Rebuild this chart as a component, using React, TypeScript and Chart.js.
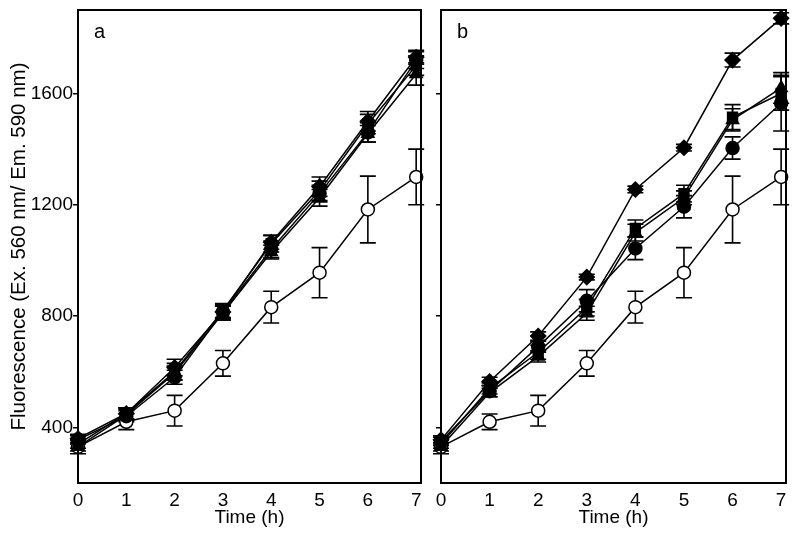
import React, { useEffect, useRef } from "react";
import { Chart, registerables } from "chart.js";

Chart.register(...registerables);

const hours = [0, 1, 2, 3, 4, 5, 6, 7];
const yTickValues = [400, 800, 1200, 1600];
const xTickValues = [0, 1, 2, 3, 4, 5, 6, 7];

// Open circles (same in both panels)
const openCircle = [330, 420, 460, 630, 832, 956, 1183, 1300];
const openCircleErr = [25, 28, 55, 46, 57, 90, 120, 100];

// Panel a
const aCircle = [355, 440, 580, 815, 1040, 1240, 1460, 1720];
const aCircleErr = [15, 20, 25, 25, 30, 30, 35, 30];
const aSquare = [340, 450, 600, 820, 1060, 1250, 1490, 1700];
const aSquareErr = [15, 20, 30, 25, 30, 35, 35, 35];
const aDiamond = [360, 450, 615, 815, 1065, 1265, 1500, 1730];
const aDiamondErr = [15, 20, 30, 25, 25, 35, 35, 25];
const aTriangle = [330, 445, 595, 810, 1030, 1225, 1455, 1670];
const aTriangleErr = [15, 20, 25, 25, 25, 30, 30, 40];

// Panel b
const bDiamond = [355, 565, 728, 940, 1255, 1405, 1720, 1870];
const bDiamondErr = [15, 15, 15, 10, 12, 12, 25, 20];
const bSquare = [340, 540, 670, 830, 1115, 1240, 1515, 1600];
const bSquareErr = [15, 20, 25, 30, 30, 30, 45, 60];
const bTriangle = [330, 525, 655, 810, 1100, 1225, 1505, 1620];
const bTriangleErr = [15, 15, 20, 25, 30, 25, 40, 55];
const bCircle = [350, 530, 690, 855, 1043, 1193, 1404, 1565];
const bCircleErr = [15, 20, 20, 40, 40, 40, 40, 100];

const FONT = "'Liberation Sans', Arial, sans-serif";

type Series = { values: number[]; err: number[]; style: string; open?: boolean };

const panelA: Series[] = [
  { values: aCircle, err: aCircleErr, style: "circle" },
  { values: aSquare, err: aSquareErr, style: "rect" },
  { values: aDiamond, err: aDiamondErr, style: "rectRot" },
  { values: aTriangle, err: aTriangleErr, style: "triangle" },
  { values: openCircle, err: openCircleErr, style: "circle", open: true },
];

const panelB: Series[] = [
  { values: bDiamond, err: bDiamondErr, style: "rectRot" },
  { values: bSquare, err: bSquareErr, style: "rect" },
  { values: bTriangle, err: bTriangleErr, style: "triangle" },
  { values: bCircle, err: bCircleErr, style: "circle" },
  { values: openCircle, err: openCircleErr, style: "circle", open: true },
];

function makeConfig(series: Series[], label: string, first: boolean): any {
  const errorBars = {
    id: "errorBars",
    beforeDatasetsDraw(chart: any) {
      const ctx = chart.ctx;
      const xs = chart.scales.x;
      const ys = chart.scales.y;
      ctx.save();
      ctx.strokeStyle = "#000";
      ctx.lineWidth = 1.6;
      series.forEach((s) => {
        s.values.forEach((v, i) => {
          const x = xs.getPixelForValue(hours[i]);
          const yt = ys.getPixelForValue(v + s.err[i]);
          const yb = ys.getPixelForValue(v - s.err[i]);
          ctx.beginPath();
          ctx.moveTo(x, yt);
          ctx.lineTo(x, yb);
          ctx.moveTo(x - 8, yt);
          ctx.lineTo(x + 8, yt);
          ctx.moveTo(x - 8, yb);
          ctx.lineTo(x + 8, yb);
          ctx.stroke();
        });
      });
      ctx.restore();
    },
    afterDraw(chart: any) {
      const ctx = chart.ctx;
      const a = chart.chartArea;
      ctx.save();
      ctx.strokeStyle = "#000";
      ctx.lineWidth = 2;
      ctx.strokeRect(a.left, a.top, a.right - a.left, a.bottom - a.top);
      ctx.fillStyle = "#000";
      ctx.font = `20px ${FONT}`;
      ctx.textBaseline = "middle";
      ctx.textAlign = "left";
      ctx.fillText(label, a.left + 16, a.top + 22);
      ctx.restore();
    },
  };

  return {
    type: "line",
    data: {
      datasets: series.map((s) => ({
        data: s.values.map((v, i) => ({ x: hours[i], y: v })),
        borderColor: "#000",
        borderWidth: 1.5,
        pointStyle: s.style,
        pointRadius: s.style === "rectRot" ? 7.5 : s.style === "triangle" ? 7 : s.style === "rect" ? 7 : 6.5,
        pointBackgroundColor: s.open ? "#fff" : "#000",
        pointBorderColor: "#000",
        pointBorderWidth: 1.5,
        fill: false,
        tension: 0,
        clip: false,
      })),
    },
    options: {
      animation: false,
      responsive: false,
      events: [],
      layout: { padding: { left: 0, top: 10, right: first ? 6.5 : 14, bottom: 0 } },
      plugins: { legend: { display: false }, tooltip: { enabled: false } },
      scales: {
        x: {
          type: "linear",
          min: 0,
          max: 7.1,
          afterBuildTicks(scale: any) {
            scale.ticks = xTickValues.map((v) => ({ value: v }));
          },
          afterFit(scale: any) {
            scale.height = 56;
            scale.paddingLeft = 0;
            scale.paddingRight = 0;
            scale.paddingTop = 0;
            scale.paddingBottom = 0;
          },
          grid: { display: false },
          border: { display: true, color: "#000", width: 2 },
          ticks: {
            color: "#000",
            font: { family: FONT, size: 19 },
            padding: -2,
            maxRotation: 0,
            callback: (v: any) => String(v),
          },
          title: {
            display: true,
            text: "Time (h)",
            color: "#000",
            font: { family: FONT, size: 19 },
            padding: { top: 0, bottom: 10 },
          },
        },
        y: {
          min: 200,
          max: 1900,
          afterBuildTicks(scale: any) {
            scale.ticks = yTickValues.map((v) => ({ value: v }));
          },
          afterFit(scale: any) {
            scale.width = first ? 78 : 11;
            scale.paddingTop = 0;
            scale.paddingBottom = 0;
            scale.paddingLeft = 0;
            scale.paddingRight = 0;
          },
          grid: {
            display: true,
            drawOnChartArea: false,
            drawTicks: true,
            tickLength: 5,
            color: "#000",
            lineWidth: 1.5,
          },
          border: { display: true, color: "#000", width: 2 },
          ticks: {
            display: first,
            color: "#000",
            font: { family: FONT, size: 19 },
            padding: 0,
            callback: (v: any) => String(v),
          },
          title: {
            display: first,
            text: "Fluorescence (Ex. 560 nm/ Em. 590 nm)",
            color: "#000",
            font: { family: FONT, size: 20.5 },
            padding: { top: 7, bottom: 0 },
          },
        },
      },
    },
    plugins: [errorBars],
  };
}

function Panel(props: { series: Series[]; label: string; first: boolean; left: number; width: number }) {
  const ref = useRef<HTMLCanvasElement | null>(null);
  useEffect(() => {
    if (!ref.current) return;
    const chart = new Chart(ref.current, makeConfig(props.series, props.label, props.first));
    return () => chart.destroy();
  }, []);
  return (
    <canvas
      ref={ref}
      width={props.width}
      height={539}
      style={{ position: "absolute", left: props.left, top: 0, width: props.width, height: 539 }}
    />
  );
}

export default function App() {
  return (
    <div style={{ position: "absolute", left: 0, top: 0, width: 800, height: 539, background: "#fff" }}>
      <Panel series={panelA} label="a" first={true} left={0} width={430} />
      <Panel series={panelB} label="b" first={false} left={430} width={370} />
    </div>
  );
}
